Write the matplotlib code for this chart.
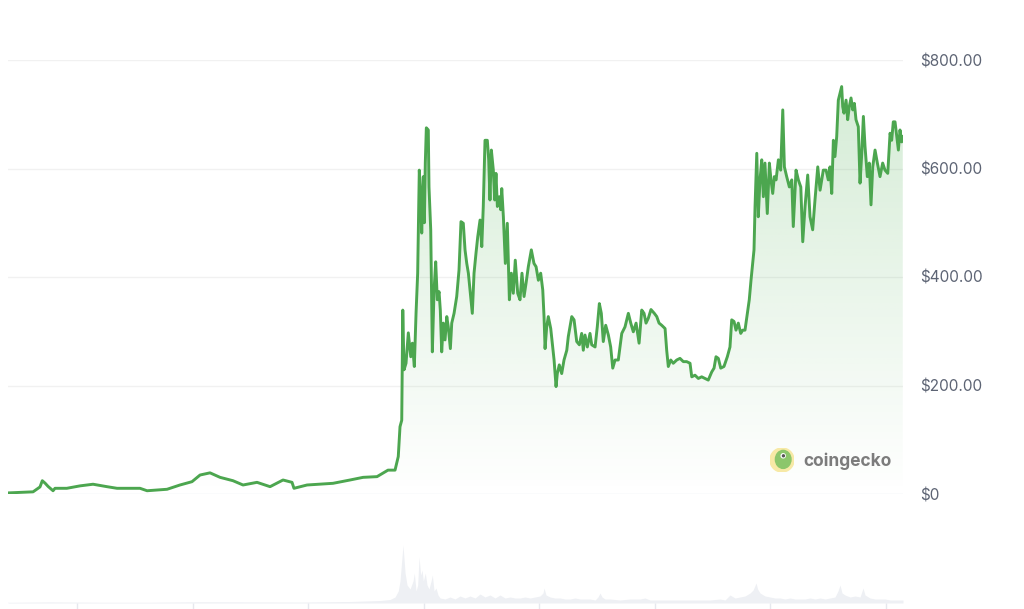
import numpy as np
import matplotlib.pyplot as plt
from matplotlib.patches import Circle, Ellipse

# BNB price (USD), decimal year
years = [2017.709, 2017.813, 2017.926, 2017.986, 2018.006, 2018.030, 2018.056, 2018.099, 2018.116, 2018.218,
         2018.333, 2018.445, 2018.566, 2018.653, 2018.852, 2018.913, 2019.086, 2019.198, 2019.302, 2019.372,
         2019.458, 2019.545, 2019.657, 2019.744, 2019.865, 2019.978, 2020.090, 2020.168, 2020.185, 2020.298,
         2020.523, 2020.670, 2020.783, 2020.904, 2020.999, 2021.060, 2021.088, 2021.103, 2021.118, 2021.127,
         2021.138, 2021.155, 2021.175, 2021.196, 2021.210, 2021.227, 2021.242, 2021.256, 2021.270, 2021.282,
         2021.291, 2021.305, 2021.314, 2021.322, 2021.331, 2021.348, 2021.354, 2021.369, 2021.378, 2021.383,
         2021.398, 2021.412, 2021.426, 2021.441, 2021.452, 2021.464, 2021.478, 2021.493, 2021.508, 2021.521,
         2021.539, 2021.551, 2021.571, 2021.594, 2021.614, 2021.631, 2021.651, 2021.666, 2021.681, 2021.695,
         2021.715, 2021.729, 2021.744, 2021.761, 2021.776, 2021.796, 2021.811, 2021.824, 2021.839, 2021.859,
         2021.871, 2021.882, 2021.894, 2021.911, 2021.923, 2021.934, 2021.946, 2021.963, 2021.975, 2021.984,
         2021.998, 2022.015, 2022.032, 2022.050, 2022.067, 2022.084, 2022.101, 2022.122, 2022.142, 2022.159,
         2022.177, 2022.194, 2022.214, 2022.240, 2022.263, 2022.281, 2022.301, 2022.321, 2022.339, 2022.350,
         2022.359, 2022.373, 2022.387, 2022.408, 2022.425, 2022.437, 2022.454, 2022.465, 2022.482, 2022.503,
         2022.523, 2022.547, 2022.560, 2022.590, 2022.610, 2022.633, 2022.656, 2022.676, 2022.690, 2022.705,
         2022.725, 2022.748, 2022.763, 2022.792, 2022.811, 2022.829, 2022.846, 2022.863, 2022.884, 2022.907,
         2022.927, 2022.945, 2022.965, 2022.993, 2023.023, 2023.051, 2023.080, 2023.101, 2023.123, 2023.147,
         2023.173, 2023.196, 2023.216, 2023.233, 2023.253, 2023.276, 2023.305, 2023.326, 2023.346, 2023.369,
         2023.398, 2023.412, 2023.426, 2023.447, 2023.469, 2023.499, 2023.527, 2023.556, 2023.585, 2023.614,
         2023.629, 2023.657, 2023.686, 2023.715, 2023.744, 2023.772, 2023.802, 2023.822, 2023.839, 2023.859,
         2023.880, 2023.908, 2023.937, 2023.960, 2023.975, 2023.995, 2024.012, 2024.032, 2024.053, 2024.070,
         2024.090, 2024.110, 2024.127, 2024.142, 2024.168, 2024.177, 2024.192, 2024.205, 2024.220, 2024.235,
         2024.249, 2024.263, 2024.283, 2024.301, 2024.315, 2024.330, 2024.344, 2024.359, 2024.379, 2024.399,
         2024.417, 2024.431, 2024.451, 2024.474, 2024.495, 2024.508, 2024.532, 2024.552, 2024.573, 2024.590,
         2024.610, 2024.633, 2024.653, 2024.676, 2024.696, 2024.720, 2024.740, 2024.768, 2024.792, 2024.811,
         2024.826, 2024.841, 2024.855, 2024.869, 2024.884, 2024.898, 2024.913, 2024.927, 2024.936, 2024.947,
         2024.965, 2024.979, 2024.993, 2025.008, 2025.023, 2025.037, 2025.051, 2025.071, 2025.086, 2025.101,
         2025.115, 2025.129, 2025.149, 2025.166, 2025.181, 2025.196, 2025.216, 2025.236, 2025.259, 2025.282,
         2025.302, 2025.326, 2025.346, 2025.360, 2025.374, 2025.389, 2025.404, 2025.418, 2025.432, 2025.447,
         2025.456]
price = [2, 3, 4, 13, 24.5, 20, 14, 6, 10.5, 10.5,
         15, 18, 13.5, 10.5, 10.5, 6, 8.7, 16.6, 22.7, 35,
         39, 30.7, 24.5, 16.6, 21.5, 13.5, 25.8, 21.5, 10.5, 16.6,
         19.7, 25.8, 30.7, 32, 44, 44, 69, 124, 136, 339,
         229, 241, 297, 253, 278, 235, 334, 407, 597, 548,
         481, 585, 500, 610, 675, 671, 566, 487, 345, 262,
         376, 428, 358, 373, 339, 262, 315, 284, 327, 308,
         268, 315, 333, 364, 413, 502, 499, 450, 425, 407,
         364, 333, 407, 444, 474, 505, 456, 530, 652, 652,
         616, 542, 634, 597, 542, 591, 530, 548, 524, 563,
         511, 425, 499, 358, 407, 370, 431, 370, 358, 407,
         364, 388, 419, 450, 425, 419, 394, 407, 376, 327,
         268, 308, 327, 305, 271, 247, 198, 222, 238, 222,
         247, 265, 290, 327, 321, 281, 275, 296, 265, 293,
         271, 296, 275, 271, 308, 351, 333, 281, 311, 293,
         271, 232, 247, 247, 296, 308, 333, 315, 299, 315,
         278, 339, 333, 315, 324, 340, 333, 327, 315, 311,
         305, 265, 235, 247, 241, 247, 250, 244, 244, 241,
         216, 219, 213, 216, 213, 210, 225, 232, 253, 250,
         232, 235, 253, 271, 321, 318, 302, 315, 296, 302,
         302, 333, 358, 394, 450, 530, 628, 511, 579, 616,
         548, 610, 517, 610, 579, 554, 585, 579, 616, 597,
         708, 603, 585, 566, 579, 493, 597, 579, 566, 465,
         530, 588, 511, 487, 542, 603, 560, 597, 597, 579,
         603, 554, 652, 622, 659, 726, 739, 751, 714, 702,
         726, 690, 714, 730, 708, 720, 690, 677, 573, 628,
         696, 641, 585, 610, 533, 603, 634, 610, 585, 610,
         597, 591, 665, 652, 686, 686, 659, 634, 671, 649,
         659]

# trading volume (relative, billions)
vol_years = [2017.709, 2018.073, 2018.506, 2018.939, 2019.372, 2019.805, 2020.237, 2020.670, 2020.930, 2021.017,
             2021.060, 2021.088, 2021.103, 2021.129, 2021.147, 2021.164, 2021.190, 2021.216, 2021.227, 2021.242,
             2021.256, 2021.268, 2021.282, 2021.294, 2021.305, 2021.322, 2021.337, 2021.354, 2021.372, 2021.383,
             2021.398, 2021.415, 2021.432, 2021.450, 2021.493, 2021.536, 2021.579, 2021.623, 2021.666, 2021.709,
             2021.753, 2021.796, 2021.839, 2021.882, 2021.926, 2021.969, 2022.012, 2022.056, 2022.099, 2022.142,
             2022.185, 2022.229, 2022.272, 2022.315, 2022.341, 2022.350, 2022.367, 2022.402, 2022.445, 2022.488,
             2022.532, 2022.575, 2022.618, 2022.662, 2022.705, 2022.748, 2022.792, 2022.817, 2022.835, 2022.852,
             2022.878, 2022.921, 2023.008, 2023.094, 2023.181, 2023.224, 2023.268, 2023.354, 2023.441, 2023.527,
             2023.614, 2023.701, 2023.787, 2023.874, 2023.917, 2023.960, 2024.004, 2024.048, 2024.090, 2024.134,
             2024.160, 2024.186, 2024.199, 2024.220, 2024.263, 2024.307, 2024.350, 2024.393, 2024.436, 2024.480,
             2024.523, 2024.567, 2024.610, 2024.653, 2024.696, 2024.740, 2024.783, 2024.826, 2024.869, 2024.895,
             2024.913, 2024.930, 2024.956, 2024.999, 2025.043, 2025.086, 2025.112, 2025.129, 2025.172, 2025.216,
             2025.259, 2025.302, 2025.346, 2025.389, 2025.458]
volume = [0.05, 0.1, 0.06, 0.06, 0.12, 0.1, 0.08, 0.15, 0.25, 0.35,
          0.6, 1.2, 2.2, 5.8, 3.0, 1.8, 1.4, 2.2, 3.0, 1.2,
          1.8, 4.6, 2.8, 3.3, 2.2, 3.0, 1.8, 1.4, 2.2, 2.8,
          1.2, 1.5, 0.8, 0.5, 0.4, 0.6, 0.4, 0.7, 0.5, 0.7,
          0.5, 0.9, 0.6, 0.8, 0.5, 0.8, 0.5, 0.6, 0.5, 0.5,
          0.6, 0.5, 0.6, 0.7, 1.0, 1.5, 0.8, 0.6, 0.5, 0.5,
          0.4, 0.4, 0.5, 0.4, 0.4, 0.4, 0.3, 0.6, 1.0, 0.6,
          0.4, 0.4, 0.3, 0.4, 0.4, 0.5, 0.3, 0.3, 0.3, 0.3,
          0.3, 0.3, 0.3, 0.4, 0.3, 0.8, 0.5, 0.6, 0.7, 1.0,
          1.3, 2.0, 1.4, 1.0, 0.7, 0.6, 0.5, 0.5, 0.4, 0.5,
          0.4, 0.4, 0.4, 0.5, 0.4, 0.5, 0.4, 0.5, 0.6, 1.2,
          1.8, 1.0, 0.8, 0.6, 0.7, 0.6, 1.5, 0.8, 0.5, 0.4,
          0.4, 0.4, 0.3, 0.3, 0.3]

price_ticks = [0, 200, 400, 600, 800]
price_labels = ['$0', '$200.00', '$400.00', '$600.00', '$800.00']
year_ticks = [2018.31, 2019.31, 2020.31, 2021.31, 2022.31, 2023.31, 2024.31, 2025.31]

W, H = 1024, 609
x0, x1 = 2017.709, 2025.458
green = '#4ca64f'

fig = plt.figure(figsize=(W / 100, H / 100), dpi=100)
fig.patch.set_facecolor('white')

ax = fig.add_axes([8 / W, (H - 494) / H, 895 / W, 434 / H])
ax.set_xlim(x0, x1)
ax.set_ylim(0, 800)
for s in ax.spines.values():
    s.set_visible(False)
ax.set_xticks([])
ax.yaxis.tick_right()
ax.set_yticks(price_ticks)
ax.set_yticklabels(price_labels)
ax.tick_params(axis='y', length=0, pad=12, labelsize=11, labelcolor='#5d6474')
for lab in ax.get_yticklabels():
    lab.set_family(['Inter', 'DejaVu Sans'])
for v in price_ticks:
    ax.axhline(v, color='#e9ebf0' if v == 0 else '#f1f1f1', lw=1, zorder=0)

# gradient area under the line
poly = ax.fill_between(years, price, 0, facecolor='none', edgecolor='none')
grad = np.zeros((256, 2, 4))
grad[..., 0] = 0x4c / 255
grad[..., 1] = 0xaf / 255
grad[..., 2] = 0x50 / 255
grad[..., 3] = np.linspace(0.25, 0.0, 256)[:, None]
im = ax.imshow(grad, extent=[x0, x1, 0, 800], aspect='auto', origin='upper', zorder=1)
im.set_clip_path(poly.get_paths()[0], transform=ax.transData)

ax.plot(years, price, color=green, lw=2.1, solid_joinstyle='round', zorder=3)

# volume panel
axv = fig.add_axes([8 / W, 6 / H, 895 / W, 63 / H])
axv.set_xlim(x0, x1)
axv.set_ylim(0, 6.3)
for s in axv.spines.values():
    s.set_visible(False)
axv.fill_between(vol_years, volume, 0, color='#eef0f4', lw=0)
axv.axhline(0, color='#eef0f4', lw=1)
axv.set_yticks([])
axv.set_xticks(year_ticks)
axv.tick_params(axis='x', length=5, width=1, color='#e6e8ee', labelbottom=False)

# coingecko watermark
logo = fig.add_axes([770 / W, (H - 472) / H, 24 / W, 24 / H])
logo.set_xlim(-1, 1)
logo.set_ylim(-1, 1)
logo.axis('off')
logo.add_patch(Circle((0, 0), 1, color='#f7e9a6'))
logo.add_patch(Ellipse((0.1, 0.05), 1.3, 1.5, color='#8cc66b'))
logo.add_patch(Circle((0.1, 0.35), 0.17, color='white'))
logo.add_patch(Circle((0.12, 0.35), 0.08, color='#555555'))
fig.text(803 / W, (H - 461) / H, 'coingecko', fontsize=12.5, fontweight='bold',
         color='#7c7c7c', family=['Inter', 'DejaVu Sans'], va='center', ha='left')

fig.savefig('out.png', dpi=100, facecolor='white')
